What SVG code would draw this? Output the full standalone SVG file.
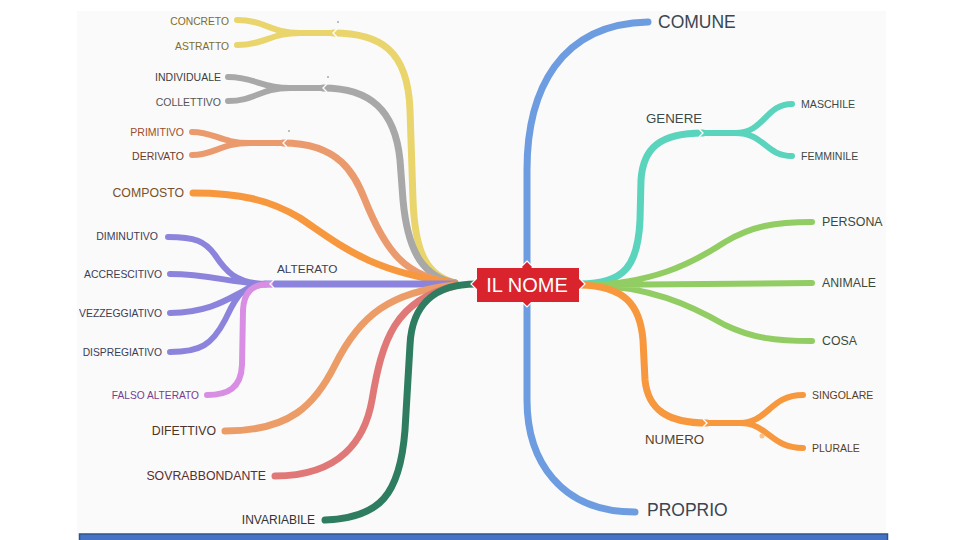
<svg xmlns="http://www.w3.org/2000/svg" width="960" height="540" viewBox="0 0 960 540">
<style>
text{font-family:"Liberation Sans",Arial,sans-serif;dominant-baseline:central}
.b{fill:none;stroke-linecap:round;stroke-linejoin:round;stroke-width:7}
.s{stroke-width:6}
.l{text-anchor:end}
.j{fill:none;stroke:#fff;stroke-width:1.3}
</style>
<rect x="0" y="0" width="960" height="540" fill="#fff"/>
<rect x="77" y="11" width="809" height="525" fill="#fafafa"/>
<rect x="79.5" y="534" width="808" height="8" fill="#4472c4" stroke="#2f528f" stroke-width="1.5"/>
<g id="connectors">
  <path class="b" stroke="#6d9de0" d="M527,290 L527,170 C527,90 560,24 648,22"/>
  <path class="b" stroke="#6d9de0" d="M527,290 L527,400 C527,460 560,512 635,512"/>
  <path class="b" stroke="#e9d56c" d="M333,33 C380,33 408,50 410,110 L413,200 C415,255 428,276 455,283"/>
  <path class="b s" stroke="#e9d56c" d="M333,33 L300,33 C270,33 265,20 237,20 M300,33 C270,33 265,45 237,45"/>
  <path class="b" stroke="#a8a8a8" d="M323,88 C370,88 395,110 400,160 L403,200 C408,255 425,277 455,283"/>
  <path class="b s" stroke="#a8a8a8" d="M323,88 L290,88 C260,88 255,77 228,77 M290,88 C260,88 255,101 228,101"/>
  <path class="b" stroke="#eb9a6e" d="M283,143 C340,143 355,175 365,200 C385,250 405,278 455,283"/>
  <path class="b s" stroke="#eb9a6e" d="M283,143 L250,143 C220,143 215,132 192,132 M250,143 C220,143 215,155 192,155"/>
  <path class="b" stroke="#f7983e" d="M193,193 C240,193 270,200 300,218 C340,245 370,272 455,283"/>
  <path class="b" stroke="#8c84dc" d="M455,284 L265,284"/>
  <path class="b s" stroke="#8c84dc" d="M268,284 C235,284 225,270 215,255 C205,241 195,237 168,237 M268,284 C235,284 210,274 170,274 M268,284 C240,284 228,312 170,313 M268,284 C240,284 235,300 225,320 C212,345 200,352 170,352"/>
  <path class="b s" stroke="#d88ee3" d="M270,284 C252,284 244,292 243,310 L242,365 C241,388 228,395 207,395"/>
  <path class="b" stroke="#ec9c66" d="M225,431 C290,431 315,405 335,365 C360,315 390,292 455,285"/>
  <path class="b" stroke="#e07878" d="M275,476 C340,476 365,440 372,400 C382,340 395,300 455,286"/>
  <path class="b" stroke="#2e7d60" d="M476,284 C440,284 412,300 410,345 L405,430 C400,495 380,518 325,520"/>
  <path class="b" stroke="#5bd4bd" d="M580,284 C625,284 638,265 640,220 L641,180 C643,148 660,133 703,133"/>
  <path class="b s" stroke="#5bd4bd" d="M703,133 L735,133 C765,133 765,104 792,104 M735,133 C765,133 765,156 792,156"/>
  <path class="b s" stroke="#91cd62" d="M585,285 C650,284 690,265 725,242 C752,226 775,222 812,222 M585,285 L812,283 M585,285 C650,286 690,305 725,325 C752,338 775,341 812,341"/>
  <path class="b" stroke="#f7983e" d="M580,285 C625,286 640,305 643,340 L645,380 C648,410 668,423 707,423"/>
  <path class="b s" stroke="#f7983e" d="M707,423 L740,423 C768,423 770,395 803,395 M740,423 C768,423 770,448 803,448"/>
  <circle cx="762" cy="436" r="2.5" fill="#f9c089"/>
  <path class="j" d="M337,29 L333,33 L337,37 M327,84 L323,88 L327,92 M287,139 L283,143 L287,147 M274,280 L270,284 L274,288 M699,129 L703,133 L699,137 M703,419 L707,423 L703,427"/>
  <circle cx="338" cy="22" r="0.7" fill="#555"/>
  <circle cx="328" cy="77" r="0.7" fill="#555"/>
  <circle cx="289" cy="131" r="0.7" fill="#555"/>
</g>
<g id="root">
  <path d="M527,261 L533,267 L527,273 L521,267 Z M527,295 L533,301 L527,307 L521,301 Z M471,284 L477,278 L483,284 L477,290 Z M585,284 L579,278 L573,284 L579,290 Z" fill="#d9232d" stroke="#fff" stroke-width="1.2"/>
  <rect x="477" y="268" width="102" height="34" fill="#d9232d"/>
  <text x="527" y="285" font-size="20" fill="#fff" text-anchor="middle">IL NOME</text>
</g>
<g id="n-concreto"><text class="l" x="229" y="21" font-size="10.3" fill="#7d6e2f">CONCRETO</text></g>
<g id="n-astratto"><text class="l" x="229" y="46" font-size="10.3" fill="#7d6e2f">ASTRATTO</text></g>
<g id="n-individuale"><text class="l" x="221" y="77" font-size="10.5" fill="#404040">INDIVIDUALE</text></g>
<g id="n-collettivo"><text class="l" x="221" y="102" font-size="10.5" fill="#555">COLLETTIVO</text></g>
<g id="n-primitivo"><text class="l" x="184" y="132" font-size="10.5" fill="#9c4e2e">PRIMITIVO</text></g>
<g id="n-derivato"><text class="l" x="184" y="156" font-size="10.5" fill="#6b3a2a">DERIVATO</text></g>
<g id="n-composto"><text class="l" x="184" y="193" font-size="12.3" fill="#7a5124">COMPOSTO</text></g>
<g id="n-alterato"><text x="277" y="269" font-size="11.8" fill="#3d3d55">ALTERATO</text></g>
<g id="n-diminutivo"><text class="l" x="158" y="236" font-size="10.5" fill="#3d3d55">DIMINUTIVO</text></g>
<g id="n-accrescitivo"><text class="l" x="162" y="274" font-size="10.4" fill="#3d3d55">ACCRESCITIVO</text></g>
<g id="n-vezzeggiativo"><text class="l" x="162" y="313" font-size="10.4" fill="#3d3d55">VEZZEGGIATIVO</text></g>
<g id="n-dispregiativo"><text class="l" x="162" y="352" font-size="10.3" fill="#3d3d55">DISPREGIATIVO</text></g>
<g id="n-falso"><text class="l" x="199" y="395" font-size="10.2" fill="#7b3c8e">FALSO ALTERATO</text></g>
<g id="n-difettivo"><text class="l" x="216" y="431" font-size="12.3" fill="#4a3528">DIFETTIVO</text></g>
<g id="n-sovrabbondante"><text class="l" x="266" y="476" font-size="12.3" fill="#5c2e2e">SOVRABBONDANTE</text></g>
<g id="n-invariabile"><text class="l" x="315" y="520" font-size="12" fill="#333">INVARIABILE</text></g>
<g id="n-comune"><text x="658" y="22" font-size="17.5" fill="#3a4652">COMUNE</text></g>
<g id="n-genere"><text x="646" y="118" font-size="13.3" fill="#3a4a48">GENERE</text></g>
<g id="n-maschile"><text x="801" y="104" font-size="10.6" fill="#3a4a48">MASCHILE</text></g>
<g id="n-femminile"><text x="801" y="156" font-size="10.5" fill="#3a4a48">FEMMINILE</text></g>
<g id="n-persona"><text x="822" y="222" font-size="12.4" fill="#3a4a3a">PERSONA</text></g>
<g id="n-animale"><text x="822" y="283" font-size="12.3" fill="#3a4a3a">ANIMALE</text></g>
<g id="n-cosa"><text x="822" y="341" font-size="12.3" fill="#3a4a3a">COSA</text></g>
<g id="n-numero"><text x="645" y="439" font-size="13.3" fill="#5a4020">NUMERO</text></g>
<g id="n-singolare"><text x="812" y="395" font-size="10.5" fill="#5a4020">SINGOLARE</text></g>
<g id="n-plurale"><text x="812" y="448" font-size="10.5" fill="#5a4020">PLURALE</text></g>
<g id="n-proprio"><text x="647" y="510" font-size="17.5" fill="#3a4652">PROPRIO</text></g>
</svg>
